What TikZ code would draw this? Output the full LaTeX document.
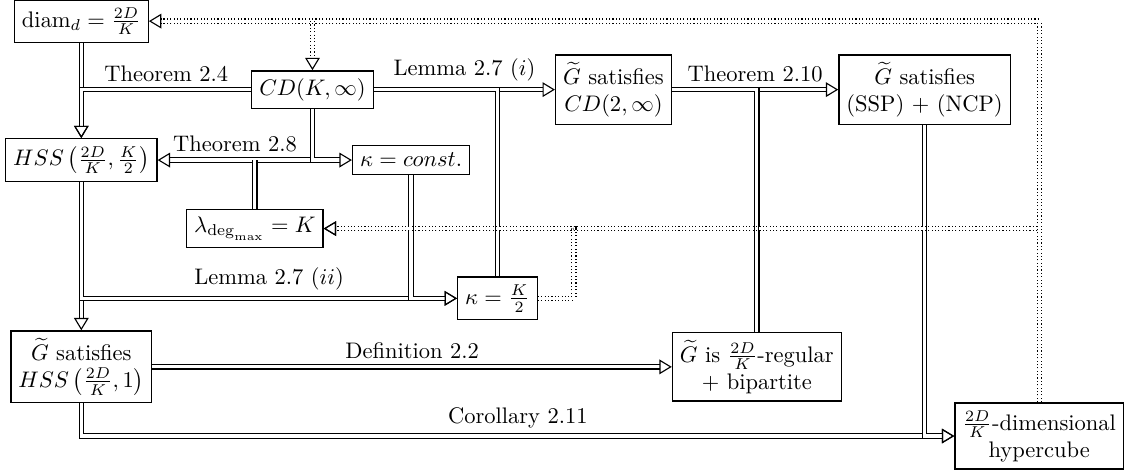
\documentclass[tikz,border=0pt]{standalone}
\usepackage{tikz}
\usetikzlibrary{arrows.meta}
\tikzset{
	box/.style={draw, semithick, align=center},
	dbl/.style={double, line width=0.5pt, double distance=1.4pt},
	tip/.style={-{Triangle[open, length=5.5pt, width=6.5pt]}},
	imp/.style={dbl, tip},
	dotimp/.style={dbl, densely dotted, tip},
	lbl/.style={above}
}

\begin{document}
\begin{tikzpicture}
	%%%%% START %%%%%
	\useasboundingbox (0, 0) rectangle (17.57, 7.40);
	
	\node[box] (diam) at (1.27, 7.07) {$\mathrm{diam}_d = \frac{2D}{K}$};
	\node[box] (CD) at (4.88, 6.00) {$CD(K,\infty)$};
	\node[box] (GCD) at (9.58, 6.00) {$\widetilde{G}$ satisfies\\ $CD(2,\infty)$};
	\node[box] (SSP) at (14.44, 6.00) {$\widetilde{G}$ satisfies\\ (SSP) + (NCP)};
	
	\node[box] (HSS) at (1.27, 4.90) {$HSS\left(\frac{2D}{K},\frac{K}{2}\right)$};
	\node[box] (kconst) at (6.42, 4.90) {$\kappa = const.$};
	\node[box] (lam) at (3.98, 3.83) {$\lambda_{\deg_{\max}} = K$};
	\node[box] (kK2) at (7.77, 2.74) {$\kappa = \frac{K}{2}$};
	
	\node[box] (GHSS) at (1.27, 1.67) {$\widetilde{G}$ satisfies\\ $HSS\left(\frac{2D}{K},1\right)$};
	\node[box] (Greg) at (11.82, 1.67) {$\widetilde{G}$ is $\frac{2D}{K}$-regular\\ + bipartite};
	\node[box] (hyper) at (16.23, 0.59) {$\frac{2D}{K}$-dimensional\\ hypercube};
	
	\coordinate (lamup) at (lam |- HSS);
	\coordinate (cdup) at (CD |- diam);
	
	% implications
	\draw[imp] (diam) -- (HSS);
	\draw[imp] (CD) -| node[lbl, pos=0.25] (t24) {Theorem 2.4} (HSS);
	\draw[imp] (CD) -- node[lbl] (l27i) {Lemma 2.7 $(i)$} (GCD);
	\draw[dbl] (CD) -| (kK2);
	\draw[imp] (CD) |- node[lbl, pos=0.75] (t28) {Theorem 2.8} (HSS);
	\draw[imp] (CD) |- (kconst);
	\draw[dbl] (lam) -- (lamup);
	
	\draw[imp] (HSS) -- (GHSS);
	\draw[imp] (HSS) |- node[lbl, pos=0.75] (l27ii) {Lemma 2.7 $(ii)$} (kK2);
	\draw[imp] (kconst) |- (kK2);
	
	\draw[imp] (GCD) -- node[lbl] (t210) {Theorem 2.10} (SSP);
	\draw[dbl] (GCD) -| (Greg);
	
	\draw[imp] (GHSS) -- node[lbl] (d22) {Definition 2.2} (Greg);
	\draw[imp] (GHSS) |- node[lbl, pos=0.75] (c211) {Corollary 2.11} (hyper);
	\draw[imp] (SSP) |- (hyper);
	
	% dotted back arrows
	\draw[dotimp] (hyper) |- (diam);
	\draw[dotimp] (cdup) -- (CD);
	\draw[dotimp] (hyper) |- (lam);
	\draw[dotimp] (kK2.east) -- ++(0.56, 0) |- (lam);
	%%%%% END %%%%%
\end{tikzpicture}
\end{document}
